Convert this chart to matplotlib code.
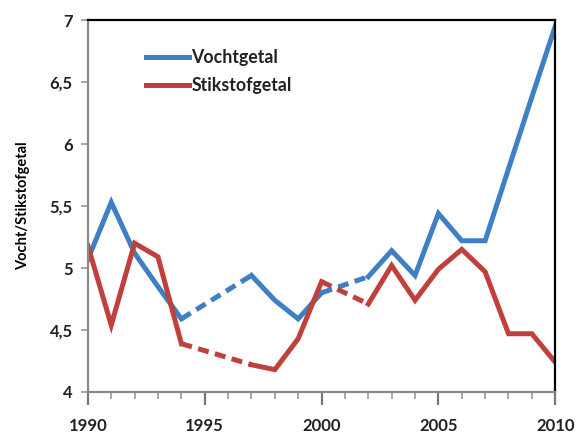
import numpy as np
import matplotlib.pyplot as plt
from matplotlib.ticker import MultipleLocator, FuncFormatter

plt.rcParams['font.family'] = ['Lato', 'DejaVu Sans']

# jaren en waarden (None = geen meting, gestippeld overbrugd)
jaren = list(range(1990, 2011))
vochtgetal = [5.07, 5.53, 5.12, 4.85, 4.59, None, None, 4.94, 4.74, 4.59, 4.80,
              None, 4.93, 5.14, 4.94, 5.44, 5.22, 5.22, 5.80, 6.38, 6.95]
stikstofgetal = [5.18, 4.54, 5.20, 5.09, 4.39, None, None, 4.22, 4.18, 4.43, 4.89,
                 None, 4.71, 5.02, 4.74, 4.99, 5.15, 4.97, 4.47, 4.47, 4.24]

blauw = '#3f7fc6'
rood = '#c0403c'


def teken(ax, x, y, kleur, label):
    y = np.array([np.nan if v is None else v for v in y])
    x = np.array(x)
    ax.plot(x, y, color=kleur, lw=3.6, label=label, solid_joinstyle='miter')
    # gaten overbruggen met stippellijn
    ok = np.where(~np.isnan(y))[0]
    for a, b in zip(ok[:-1], ok[1:]):
        if b - a > 1:
            ax.plot([x[a], x[b]], [y[a], y[b]], color=kleur, lw=3.6,
                    ls=(0, (2.2, 1.3)))


fig = plt.figure(figsize=(5.82, 4.37), dpi=100)
ax = fig.add_axes([0.151, 0.103, 0.803, 0.851])

teken(ax, jaren, vochtgetal, blauw, 'Vochtgetal')
teken(ax, jaren, stikstofgetal, rood, 'Stikstofgetal')

ax.set_xlim(1990, 2010)
ax.set_ylim(4, 7)
ax.xaxis.set_major_locator(MultipleLocator(5))
ax.xaxis.set_minor_locator(MultipleLocator(1))
ax.yaxis.set_major_locator(MultipleLocator(0.5))
ax.yaxis.set_major_formatter(FuncFormatter(lambda v, p: ('%g' % v).replace('.', ',')))

for s in ['left', 'bottom']:
    ax.spines[s].set_color('#8a8a8a')
    ax.spines[s].set_linewidth(1.6)
for s in ['top', 'right']:
    ax.spines[s].set_color('black')
    ax.spines[s].set_linewidth(1.6)

ax.tick_params(axis='x', which='major', length=9, width=1.6, color='#777777',
               pad=10, labelsize=12)
ax.tick_params(axis='x', which='minor', length=5, width=1.2, color='#999999')
ax.tick_params(axis='y', which='major', length=5, width=1.2, color='#999999',
               pad=6, labelsize=12)
for t in ax.get_xticklabels() + ax.get_yticklabels():
    t.set_fontweight('bold')
    t.set_color('#222222')

ax.set_ylabel('Vocht/Stikstofgetal', fontsize=10.5, fontweight='bold', labelpad=14)

leg = ax.legend(loc='upper left', bbox_to_anchor=(0.09, 0.965), frameon=False,
                handlelength=2.4, handletextpad=0.15, labelspacing=0.6,
                prop={'size': 12.8, 'weight': 'bold'})
for t in leg.get_texts():
    t.set_color('#222222')

fig.savefig('out.png', dpi=100)
